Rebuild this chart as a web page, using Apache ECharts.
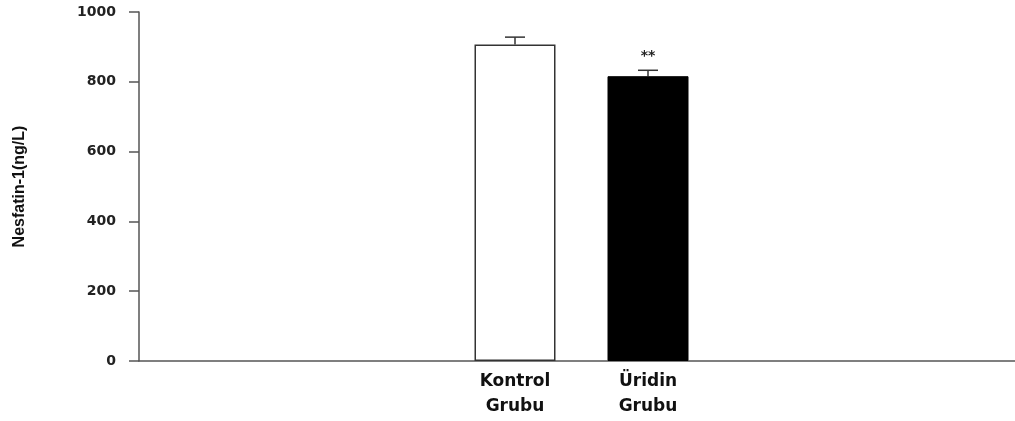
<!DOCTYPE html>
<html>
<head>
<meta charset="utf-8">
<script src="https://cdn.jsdelivr.net/npm/echarts@6/dist/echarts.min.js"></script>
<style>
  html, body { margin: 0; padding: 0; background: #fff; }
  #main { width: 1015px; height: 421px; }
</style>
</head>
<body>
<div id="main"></div>
<script>
// data
var groups = ["Kontrol\nGrubu", "Üridin\nGrubu"];
var means = [907, 816];
var errors = [21, 17];
var marks = ["", "**"];
var yTicks = [0, 200, 400, 600, 800, 1000];

var chart = echarts.init(document.getElementById("main"));

var option = {
  animation: false,
  grid: [
    // full frame, only carries the axes
    { left: 139, right: 0, top: 12, bottom: 60, outerBoundsMode: "none" },
    // narrow grid that holds the two bars
    { left: 448.5, width: 266, top: 12, bottom: 60, outerBoundsMode: "none" }
  ],
  xAxis: [
    {
      gridIndex: 0,
      type: "value",
      min: 0,
      max: 1,
      axisLine: { show: true, onZero: false, lineStyle: { color: "#555", width: 1.5 } },
      axisTick: { show: false },
      axisLabel: { show: false },
      splitLine: { show: false }
    },
    {
      gridIndex: 1,
      type: "category",
      data: groups,
      axisLine: { show: false },
      axisTick: { show: false },
      axisLabel: {
        margin: 8,
        color: "#111",
        fontFamily: "DejaVu Sans",
        fontWeight: "bold",
        fontSize: 17,
        lineHeight: 25
      }
    }
  ],
  yAxis: [
    {
      gridIndex: 0,
      type: "value",
      min: yTicks[0],
      max: yTicks[yTicks.length - 1],
      interval: 200,
      name: "Nesfatin-1(ng/L)",
      nameLocation: "center",
      nameGap: 111,
      nameTextStyle: {
        color: "#111",
        fontFamily: "Liberation Sans",
        fontWeight: "bold",
        fontSize: 16
      },
      axisLine: { show: true, lineStyle: { color: "#555", width: 1.5 } },
      axisTick: { show: true, length: 10, lineStyle: { color: "#555", width: 1.5 } },
      axisLabel: {
        margin: 23,
        color: "#222",
        fontFamily: "DejaVu Sans",
        fontWeight: "bold",
        fontSize: 14,
        formatter: function (v) { return String(v); }
      },
      splitLine: { show: false }
    },
    {
      gridIndex: 1,
      type: "value",
      min: 0,
      max: 1000,
      show: false
    }
  ],
  series: [
    {
      type: "bar",
      xAxisIndex: 1,
      yAxisIndex: 1,
      barWidth: 81,
      data: [
        { value: means[0], itemStyle: { color: "#fff", borderColor: "#333", borderWidth: 1.5 } },
        { value: means[1], itemStyle: { color: "#000", borderColor: "#000", borderWidth: 1 } }
      ]
    },
    {
      // error bars (upper only) and significance stars
      type: "custom",
      xAxisIndex: 1,
      yAxisIndex: 1,
      data: means.map(function (m, i) { return [i, m, errors[i], marks[i]]; }),
      renderItem: function (params, api) {
        var i = api.value(0);
        var base = api.coord([i, api.value(1)]);
        var top = api.coord([i, api.value(1) + api.value(2)]);
        var half = 10;
        var children = [
          { type: "line", shape: { x1: base[0], y1: base[1], x2: top[0], y2: top[1] },
            style: { stroke: "#333", lineWidth: 1.5 } },
          { type: "line", shape: { x1: top[0] - half, y1: top[1], x2: top[0] + half, y2: top[1] },
            style: { stroke: "#333", lineWidth: 1.5 } }
        ];
        var star = marks[params.dataIndex];
        if (star) {
          children.push({
            type: "text",
            style: {
              text: star, x: top[0], y: top[1] - 14,
              align: "center", verticalAlign: "middle",
              fill: "#222", font: "bold 14px DejaVu Sans"
            }
          });
        }
        return { type: "group", children: children };
      }
    }
  ]
};

chart.setOption(option);
</script>
</body>
</html>
